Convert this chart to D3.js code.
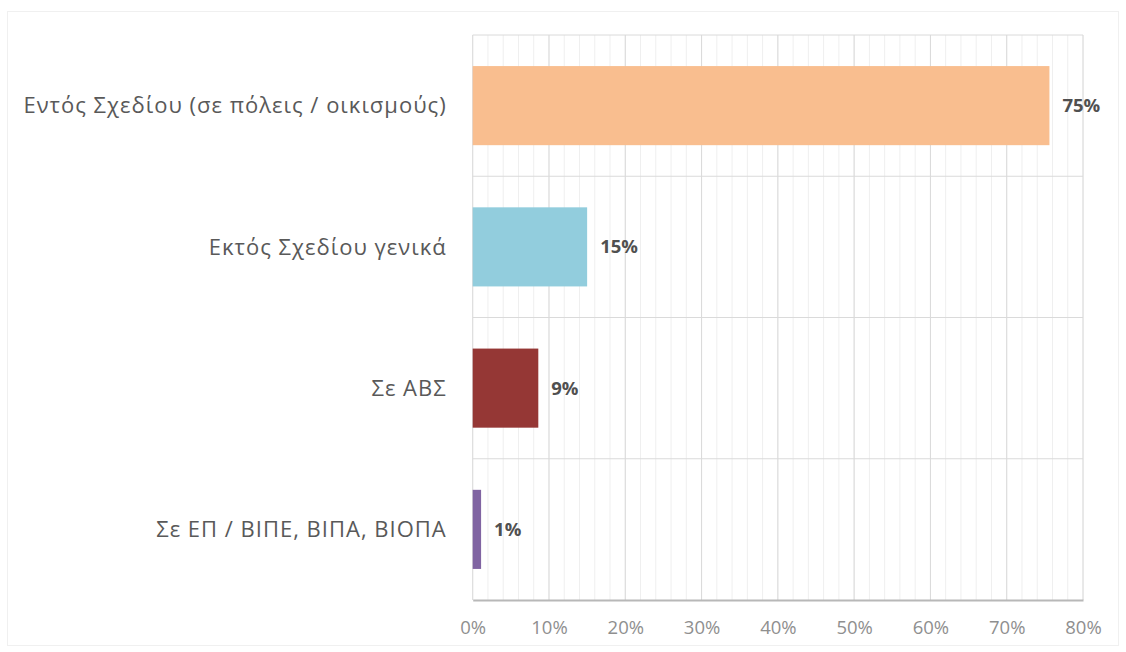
<!DOCTYPE html>
<html><head><meta charset="utf-8">
<script src="https://cdn.jsdelivr.net/npm/d3@7"></script>
<style>body{margin:0;background:#fff}svg{display:block}</style>
</head><body>
<svg id="chart" width="1126" height="652"></svg>
<script>
const categories = ["Εντός Σχεδίου (σε πόλεις / οικισμούς)", "Εκτός Σχεδίου γενικά", "Σε ΑΒΣ", "Σε ΕΠ / ΒΙΠΕ, ΒΙΠΑ, ΒΙΟΠΑ"];
const values = [75.6, 15.0, 8.6, 1.1];
const valueLabels = ["75%", "15%", "9%", "1%"];
const colors = ["#F9BE8F", "#92CDDD", "#953735", "#8064A2"];
const tickValues = [0, 10, 20, 30, 40, 50, 60, 70, 80];

const svg = d3.select("#chart");
const m = {left: 472.7, right: 1083, top: 35, bottom: 600};
const font = "'Open Sans', 'Noto Sans', sans-serif";

svg.append("rect").attr("x", 7.5).attr("y", 11.5).attr("width", 1111).attr("height", 634)
  .attr("fill", "none").attr("stroke", "#f0f0f0");

const x = d3.scaleLinear().domain([0, 80]).range([m.left, m.right]);
const y = d3.scaleBand().domain(categories).range([m.top, m.bottom]).paddingInner(0.44).paddingOuter(0.22);

// minor gridlines
svg.append("g").selectAll("line").data(d3.range(0, 81, 2)).join("line")
  .attr("x1", d => x(d)).attr("x2", d => x(d)).attr("y1", m.top).attr("y2", m.bottom)
  .attr("stroke", "#efefef").attr("stroke-width", 1);
// major gridlines
svg.append("g").selectAll("line").data(tickValues).join("line")
  .attr("x1", d => x(d)).attr("x2", d => x(d)).attr("y1", m.top).attr("y2", m.bottom)
  .attr("stroke", "#dadada").attr("stroke-width", 1);
// horizontal band separators
const bandEdges = [m.top].concat(categories.map((c, i) => m.top + (i + 1) * (m.bottom - m.top) / categories.length));
svg.append("g").selectAll("line").data(bandEdges.slice(0, -1)).join("line")
  .attr("x1", m.left).attr("x2", m.right).attr("y1", d => d).attr("y2", d => d)
  .attr("stroke", "#dadada").attr("stroke-width", 1);

// bars
svg.append("g").selectAll("rect").data(values).join("rect")
  .attr("x", x(0)).attr("y", (d, i) => y(categories[i]))
  .attr("width", d => x(d) - x(0)).attr("height", y.bandwidth())
  .attr("fill", (d, i) => colors[i]);

// value labels
svg.append("g").selectAll("text").data(values).join("text")
  .attr("x", d => x(d) + 13).attr("y", (d, i) => y(categories[i]) + y.bandwidth() / 2)
  .attr("dy", "0.35em").attr("font-family", font).attr("font-size", 18.5).attr("font-weight", "bold")
  .attr("fill", "#505050").text((d, i) => valueLabels[i]);

// category labels
svg.append("g").selectAll("text").data(categories).join("text")
  .attr("x", m.left - 26).attr("y", d => y(d) + y.bandwidth() / 2)
  .attr("dy", "0.35em").attr("text-anchor", "end").attr("font-family", font).attr("font-size", 22)
  .attr("letter-spacing", 1)
  .attr("fill", "#595959").text(d => d);

// x axis
const xAxis = svg.append("g").attr("transform", `translate(0,${m.bottom})`)
  .call(d3.axisBottom(x).tickValues(tickValues).tickFormat(d => d + "%").tickSize(0).tickPadding(21));
xAxis.select(".domain").attr("stroke", "#b8b8b8").attr("stroke-width", 2);
xAxis.selectAll("text").attr("font-family", font).attr("font-size", 18.5).attr("fill", "#8f8f8f");
</script>
</body></html>
